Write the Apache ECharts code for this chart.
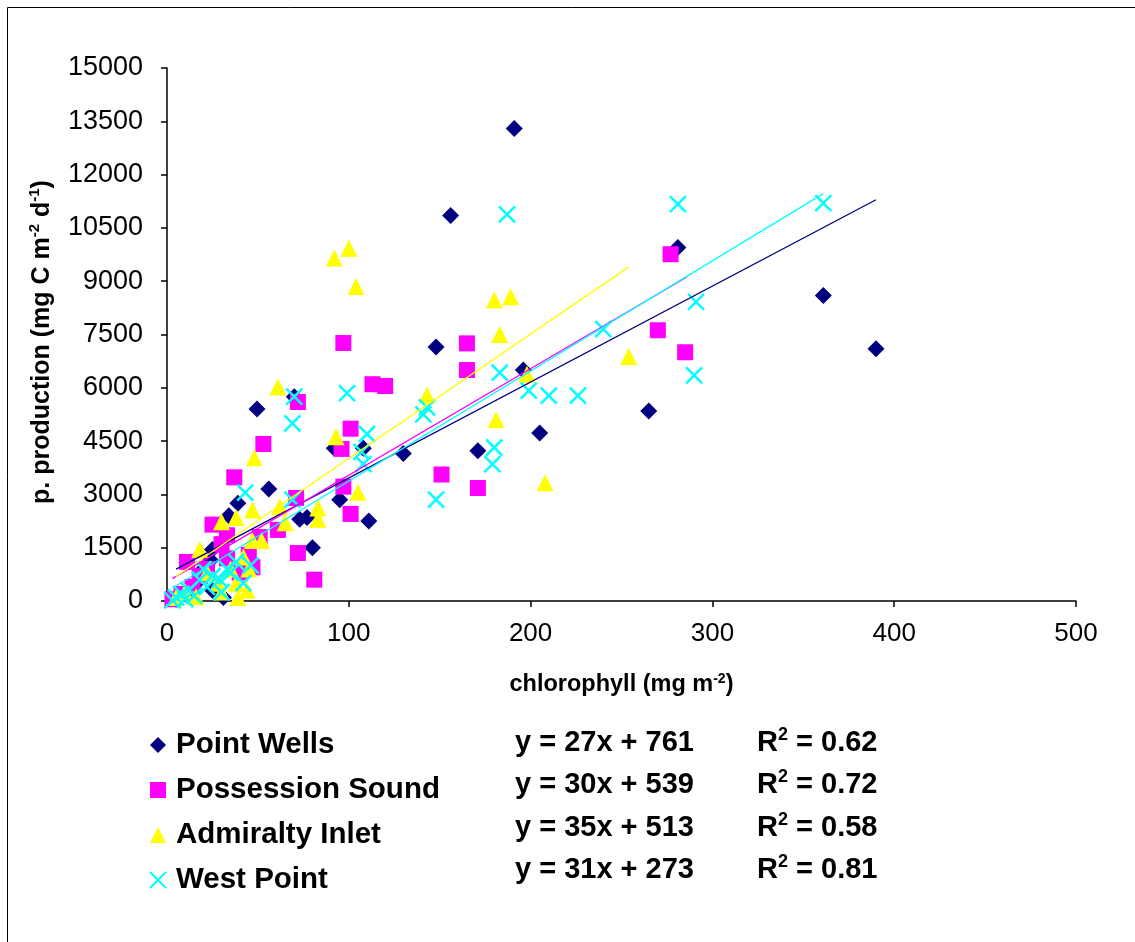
<!DOCTYPE html>
<html>
<head>
<meta charset="utf-8">
<script src="https://cdn.jsdelivr.net/npm/echarts@6/dist/echarts.min.js"></script>
<style>
html,body{margin:0;padding:0;background:#fff;}
#chart{width:1135px;height:942px;}
</style>
</head>
<body>
<div id="chart"></div>
<script>
// ---- data (chlorophyll mg m-2, production mg C m-2 d-1) ----
const seriesNames = ['Point Wells', 'Possession Sound', 'Admiralty Inlet', 'West Point'];

const pointWells = [
  [5,50],[10,200],[18,600],[20,900],[24,1150],[25,1450],[25,300],[31,100],[34,2400],[39,2750],
  [49.5,5400],[56,3150],[70,5750],[73,2300],[77,2350],[80,1500],[92,4300],[95,2850],[108,4300],
  [111,2250],[130,4150],[148,7150],[156,10850],[171,4230],[191,13300],[196,6500],[205,4730],
  [265,5350],[281,9950],[361,8600],[390,7100]
];
const possessionSound = [
  [3,50],[8,200],[11,1100],[14,400],[18,700],[22,900],[25,2150],[30,1600],[33,1850],[33,1200],
  [37,3480],[40,800],[45,1300],[47,950],[51,1800],[53,4420],[61,2000],[71,2900],[72,5600],
  [72,1350],[81,600],[96,4280],[97,7260],[97,3220],[101,4850],[101,2450],[113,6100],[120,6050],
  [151,3560],[165,7250],[165,6500],[171,3180],[270,7620],[277,9760],[285,7000]
];
const admiraltyInlet = [
  [5,100],[10,250],[16,120],[18,1450],[22,800],[28,500],[30,2230],[30,250],[35,900],[38,2350],
  [38,500],[39,100],[42,1240],[44,300],[45,900],[47,1700],[47,2560],[48,4030],[52,1700],[61,6020],
  [62,2650],[65,2200],[83,2620],[83,2300],[92,9650],[93,4620],[100,9930],[104,8850],[105,3060],
  [143,5800],[180,8470],[181,5100],[183,7500],[189,8560],[198,6380],[208,3330],[254,6880]
];
const westPoint = [
  [3,20],[5,100],[8,200],[10,50],[12,300],[15,150],[18,600],[20,900],[22,400],[25,700],[29,600],
  [30,250],[33,900],[35,800],[38,1100],[42,500],[43,3050],[46,1000],[69,5000],[69,2850],[70,5750],
  [99,5850],[107,4200],[108,3850],[110,4700],[141,5250],[143,5450],[148,2850],[179,3850],
  [180,4320],[183,6430],[187,10880],[199,5920],[210,5780],[226,5780],[240,7650],[281,11170],
  [290,6350],[291,8420],[361,11200]
];

// linear trendlines: y = slope*x + intercept over the data's x range
const trendSlopes = [27, 30, 35, 31];
const trendIntercepts = [761, 539, 513, 273];
const trendR2 = ['0.62', '0.72', '0.58', '0.81'];
const trendXStart = [5, 3, 5, 3];
const trendXEnd = [390, 286, 254, 361];

const xTicks = { min: 0, max: 500, interval: 100 };
const yTicks = { min: 0, max: 15000, interval: 1500 };

// ---- styling ----
const colors = ['#000080', '#ff00ff', '#ffff00', '#00ffff'];
const FONT = '"Liberation Sans", Arial, sans-serif';
const xSymbol = 'path://M0,0L10,10M10,0L0,10';
const symbols = ['diamond', 'rect', 'triangle', xSymbol];
const symbolSizes = [17, 16, 17, 16];
const allData = [pointWells, possessionSound, admiraltyInlet, westPoint];

const scatterSeries = allData.map((d, i) => ({
  name: seriesNames[i],
  type: 'scatter',
  data: d,
  symbol: symbols[i],
  symbolSize: symbolSizes[i],
  itemStyle: i === 3
    ? { color: 'rgba(0,0,0,0)', borderColor: colors[i], borderWidth: 2.5, opacity: 1 }
    : { color: colors[i], opacity: 1 },
  z: 2 + i
}));

const trendSeries = trendSlopes.map((a, i) => ({
  name: seriesNames[i] + ' trend',
  type: 'line',
  data: [[trendXStart[i], a * trendXStart[i] + trendIntercepts[i]],
         [trendXEnd[i], a * trendXEnd[i] + trendIntercepts[i]]],
  symbol: 'none',
  silent: true,
  lineStyle: { color: colors[i], width: 1.3 },
  z: 10
}));

// legend-side text: equations and R²
const eqY = [743, 785, 828, 870];
const graphics = [
  { type: 'rect', shape: { x: 7.5, y: 7.5, width: 1200, height: 1000 },
    style: { fill: 'none', stroke: '#000', lineWidth: 1 }, silent: true },
  { type: 'text', x: 42, y: 342, rotation: Math.PI / 2,
    style: {
      text: '{a|p. production (mg C m}{s|-2}{a| d}{s|-1}{a|)}',
      align: 'center', verticalAlign: 'middle',
      rich: {
        a: { fontFamily: FONT, fontWeight: 'bold', fontSize: 25, fill: '#000', lineHeight: 28 },
        s: { fontFamily: FONT, fontWeight: 'bold', fontSize: 15, fill: '#000', lineHeight: 28, padding: [0, 0, 14, 0] }
      }
    } }
];
trendSlopes.forEach((a, i) => {
  graphics.push({ type: 'text', x: 515, y: eqY[i],
    style: { text: 'y = ' + a + 'x + ' + trendIntercepts[i], fontFamily: FONT, fontWeight: 'bold',
      fontSize: 29, fill: '#000', align: 'left', verticalAlign: 'middle' } });
  graphics.push({ type: 'text', x: 757, y: eqY[i],
    style: { text: '{n|R}{s|2}{n| = ' + trendR2[i] + '}', align: 'left', verticalAlign: 'middle',
      rich: {
        n: { fontFamily: FONT, fontWeight: 'bold', fontSize: 29, fill: '#000', lineHeight: 32 },
        s: { fontFamily: FONT, fontWeight: 'bold', fontSize: 18, fill: '#000', lineHeight: 32, padding: [0, 0, 16, 0] }
      } } });
});

const chart = echarts.init(document.getElementById('chart'), null, { renderer: 'canvas' });
chart.setOption({
  animation: false,
  backgroundColor: '#ffffff',
  grid: { left: 167, right: 59, top: 68, bottom: 341, containLabel: false },
  xAxis: {
    type: 'value', min: xTicks.min, max: xTicks.max, interval: xTicks.interval,
    name: '{a|chlorophyll (mg m}{s|-2}{a|)}',
    nameLocation: 'middle', nameGap: 70,
    nameTextStyle: {
      rich: {
        a: { fontFamily: FONT, fontWeight: 'bold', fontSize: 23.5, color: '#000', lineHeight: 28 },
        s: { fontFamily: FONT, fontWeight: 'bold', fontSize: 14, color: '#000', lineHeight: 28, padding: [0, 0, 12, 0] }
      }
    },
    axisLine: { lineStyle: { color: '#000', width: 1.5 } },
    axisTick: { show: true, inside: false, length: 6, lineStyle: { color: '#000', width: 1.5 } },
    axisLabel: { margin: 20, fontFamily: FONT, fontSize: 26, color: '#000' },
    splitLine: { show: false }
  },
  yAxis: {
    type: 'value', min: yTicks.min, max: yTicks.max, interval: yTicks.interval,
    axisLine: { show: true, lineStyle: { color: '#000', width: 1.5 } },
    axisTick: { show: true, inside: false, length: 6, lineStyle: { color: '#000', width: 1.5 } },
    axisLabel: { margin: 24, fontFamily: FONT, fontSize: 27, color: '#000',
      formatter: v => String(v) },
    splitLine: { show: false }
  },
  legend: {
    orient: 'vertical', left: 149, top: 730, padding: 0,
    itemWidth: 16, itemHeight: 16, itemGap: 15,
    textStyle: { fontFamily: FONT, fontWeight: 'bold', fontSize: 29.5, color: '#000', lineHeight: 30, padding: [0, 0, 0, 5] },
    data: seriesNames.map((n, i) => i === 3
      ? { name: n, itemStyle: { color: 'rgba(0,0,0,0)', borderColor: colors[3], borderWidth: 2 } }
      : { name: n, itemStyle: { color: colors[i], borderWidth: 0 } })
  },
  graphic: graphics,
  series: scatterSeries.concat(trendSeries)
});
</script>
</body>
</html>
